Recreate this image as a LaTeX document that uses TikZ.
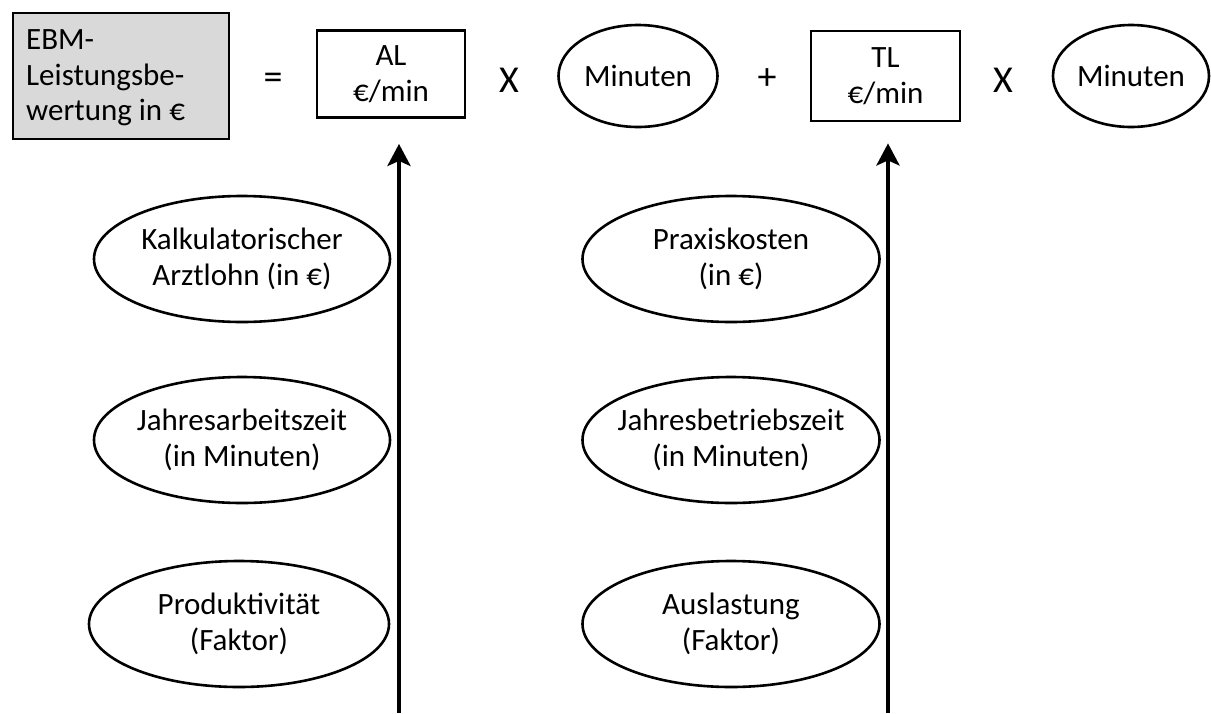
\documentclass[tikz,border=0pt]{standalone}
\usepackage{fontspec}
\setmainfont{Carlito}
\usetikzlibrary{shapes.geometric,arrows.meta}
\definecolor{boxgray}{HTML}{D9D9D9}
\tikzset{
  txt/.style={font=\fontsize{31}{35.5}\selectfont, align=center, inner sep=0pt},
  sym/.style={font=\fontsize{38}{40}\selectfont, inner sep=0pt},
  valbox/.style={txt, draw, line width=2.8pt, rectangle},
  factor/.style={txt, draw, line width=2.6pt, ellipse, inner sep=-30pt},
  arr/.style={line width=4.6pt, -{Stealth[length=22pt,width=23pt,inset=5pt]}}
}
\begin{document}
\begin{tikzpicture}[x=1pt,y=-1pt]
\useasboundingbox (0,0) rectangle (1211,713);
% top row
\node[draw, line width=2.8pt, fill=boxgray, minimum width=216pt, minimum height=126pt, inner sep=0pt] (ebm) at (121,76) {};
\node[txt, align=left, anchor=west] (ebmtext) at (26,78) {EBM-\\Leistungsbe-\\wertung in €};
\node[sym] (eq) at (273,81) {=};
\node[valbox, minimum width=148pt, minimum height=87pt] (al) at (391,74) {AL\\€/min};
\node[sym] (x1) at (509,80) {X};
\node[factor, minimum width=159pt, minimum height=102pt] (m1) at (638,76) {Minuten};
\node[sym] (plus) at (767,79) {+};
\node[valbox, minimum width=149pt, minimum height=90pt] (tl) at (885.5,76) {TL\\€/min};
\node[sym] (x2) at (1003,80) {X};
\node[factor, minimum width=156pt, minimum height=102pt] (m2) at (1131,76) {Minuten};
% left column
\node[factor, minimum width=296pt, minimum height=126pt] (kal) at (242,259) {Kalkulatorischer\\Arztlohn (in €)};
\node[factor, minimum width=296pt, minimum height=126pt] (jaz) at (242,440) {Jahresarbeitszeit\\(in Minuten)};
\node[factor, minimum width=300pt, minimum height=126pt] (pro) at (239,624) {Produktivität\\(Faktor)};
% right column
\node[factor, minimum width=297pt, minimum height=126pt] (pk) at (731,259) {Praxiskosten\\(in €)};
\node[factor, minimum width=297pt, minimum height=126pt] (jbz) at (731,440) {Jahresbetriebszeit\\(in Minuten)};
\node[factor, minimum width=297pt, minimum height=126pt] (aus) at (731,624) {Auslastung\\(Faktor)};
% arrows
\coordinate (a1) at (399,713);
\coordinate (a2) at (888,713);
\draw[arr] (a1) -- ([yshift=-25pt]a1 |- al.south);
\draw[arr] (a2) -- ([yshift=-21pt]a2 |- tl.south);
\end{tikzpicture}
\end{document}
